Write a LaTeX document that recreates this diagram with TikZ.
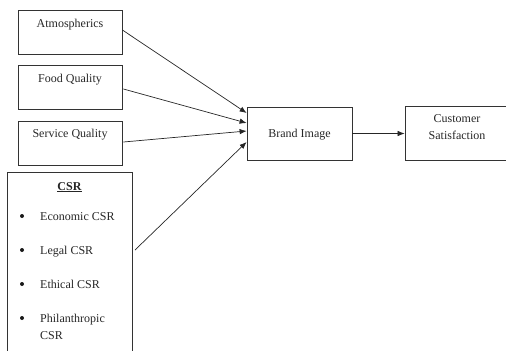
\documentclass[tikz,border=0pt]{standalone}
\usepackage{fontspec}
\setmainfont{Liberation Serif}
\usetikzlibrary{arrows.meta,calc}
\begin{document}
\begin{tikzpicture}[x=1bp,y=-1bp,
  box/.style={draw=black!80,line width=0.8bp,rectangle,inner sep=0pt},
  lbl/.style={font=\fontsize{12bp}{14bp}\selectfont,text=black!85,inner sep=0pt,anchor=base},
  item/.style={lbl,anchor=base west},
  conn/.style={draw=black!85,line width=0.7bp,-{Latex[length=7bp,width=5.5bp]}},
  bul/.style={circle,fill=black!90,inner sep=0pt,minimum size=4bp}]
\useasboundingbox (0,0) rectangle (506,350);
\clip (0,0) rectangle (506,350);
% boxes
\node[box,minimum width=104bp,minimum height=44bp] (atm) at (70,32) {};
\node[box,minimum width=104bp,minimum height=44bp] (food) at (70,87) {};
\node[box,minimum width=104bp,minimum height=44bp] (serv) at (70,143) {};
\node[box,minimum width=125bp,minimum height=200bp] (csr) at (69.5,272) {};
\node[box,minimum width=105bp,minimum height=53bp] (brand) at (299.5,133.5) {};
\node[box,minimum width=110bp,minimum height=54bp] (cust) at (460,133.5) {};
% labels
\node[lbl] (tatm) at (70,27) {Atmospherics};
\node[lbl] (tfood) at (70,82) {Food Quality};
\node[lbl] (tserv) at (70,137.5) {Service Quality};
\node[lbl] (tbrand) at (299.5,137) {Brand Image};
\node[lbl] (tcust1) at (457,122) {Customer};
\node[lbl] (tcust2) at (457,139) {Satisfaction};
\node[lbl,font=\fontsize{12bp}{14bp}\selectfont\bfseries] (tcsr) at (69.5,190) {\underline{CSR}};
\node[bul] (b1) at (22,216) {};
\node[item] (i1) at (40,220) {Economic CSR};
\node[bul] (b2) at (22,250) {};
\node[item] (i2) at (40,254) {Legal CSR};
\node[bul] (b3) at (22,284) {};
\node[item] (i3) at (40,288) {Ethical CSR};
\node[bul] (b4) at (22,318) {};
\node[item] (i4) at (40,322) {Philanthropic};
\node[item] (i5) at (40,339) {CSR};
% connectors
\coordinate (csrout) at (135,250);
\draw[conn] ($(atm.east)+(0,-2)$) -- ($(brand.west)+(0,-20.5)$);
\draw[conn] ($(food.east)+(1,2)$) -- ($(brand.west)+(0,-10.5)$);
\draw[conn] ($(serv.east)+(1,-1)$) -- ($(brand.west)+(0,-2.5)$);
\draw[conn] (csrout) -- ($(brand.west)+(0,8.5)$);
\draw[conn] (brand.east) -- (cust.west);
\end{tikzpicture}
\end{document}
